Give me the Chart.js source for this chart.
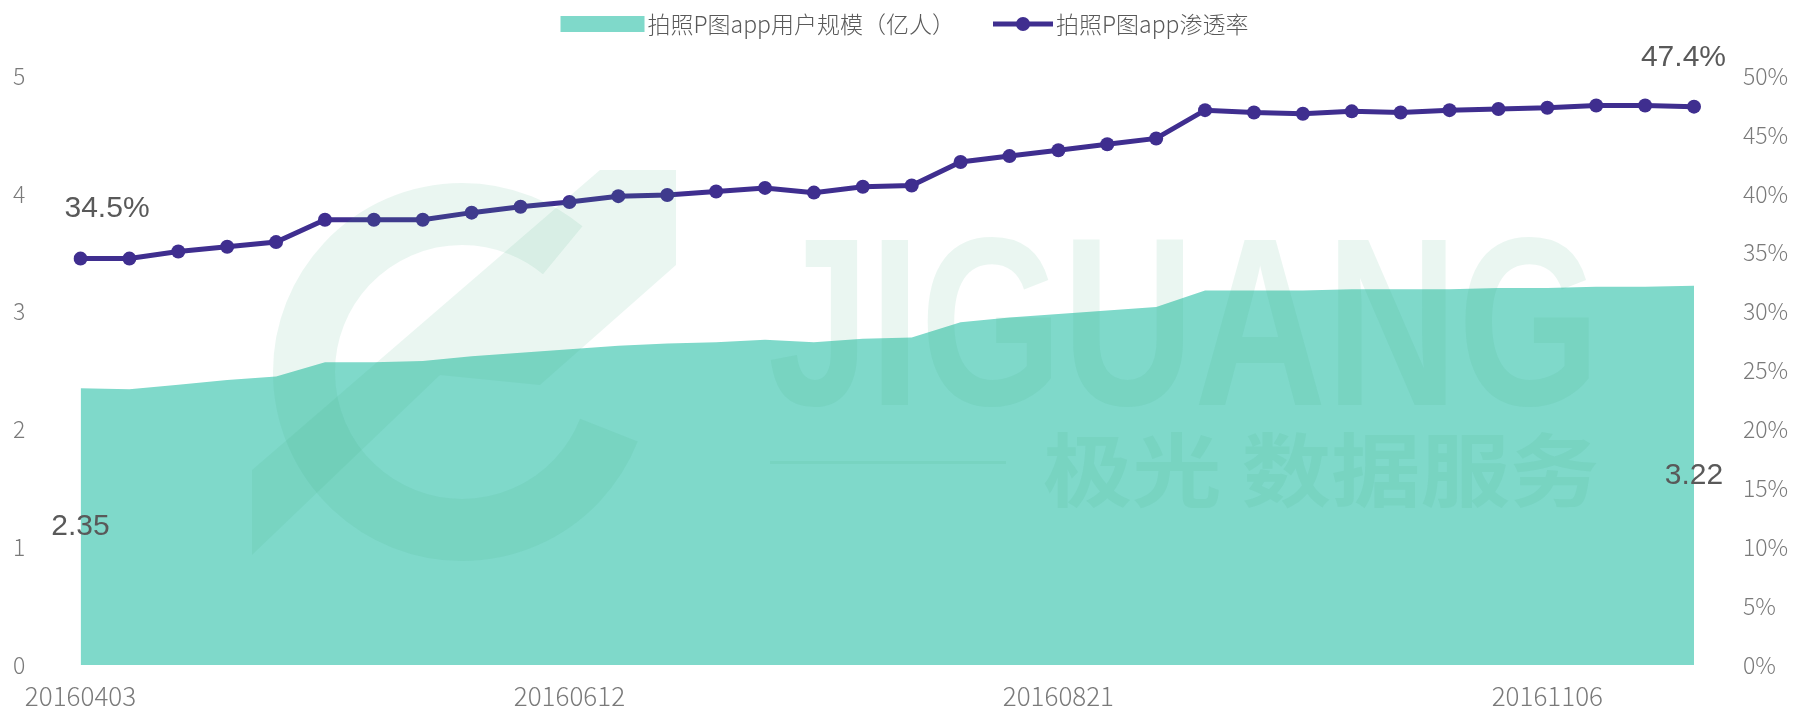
<!DOCTYPE html>
<html>
<head>
<meta charset="utf-8">
<script src="https://cdn.jsdelivr.net/npm/chart.js@4.4.1/dist/chart.umd.min.js"></script>
<style>
  html, body { margin: 0; padding: 0; background: #fff; overflow: hidden; }
  canvas { display: block; }
</style>
</head>
<body>
<canvas id="chart" width="1797" height="710"></canvas>
<script>
// weekly dates (one week missing in early October)
const dates = [
    '20160403', '20160410', '20160417', '20160424', '20160501', '20160508', '20160515', '20160522',
    '20160529', '20160605', '20160612', '20160619', '20160626', '20160703', '20160710', '20160717',
    '20160724', '20160731', '20160807', '20160814', '20160821', '20160828', '20160904', '20160911',
    '20160918', '20160925', '20161009', '20161016', '20161023', '20161030', '20161106', '20161113',
    '20161120', '20161127'
];

// 拍照P图app用户规模（亿人）
const users = [
    2.35, 2.34, 2.38, 2.42, 2.45, 2.57, 2.57, 2.58, 2.62, 2.65, 2.68, 2.71,
    2.73, 2.74, 2.76, 2.74, 2.77, 2.78, 2.91, 2.95, 2.98, 3.01, 3.04,
    3.18, 3.18, 3.18, 3.19, 3.19, 3.19, 3.20, 3.20, 3.21, 3.21, 3.22
];

// 拍照P图app渗透率 (%)
const penetration = [
    34.5, 34.5, 35.1, 35.5, 35.9, 37.8, 37.8, 37.8, 38.4, 38.9, 39.3, 39.8,
    39.9, 40.2, 40.5, 40.1, 40.6, 40.7, 42.7, 43.2, 43.7, 44.2, 44.7,
    47.1, 46.9, 46.8, 47.0, 46.9, 47.1, 47.2, 47.3, 47.5, 47.5, 47.4
];

const seriesNames = ['拍照P图app用户规模（亿人）', '拍照P图app渗透率'];

const TEAL = '#7fd9ca';
const PURPLE = '#3f2e8f';
const TICK_COLOR = '#7a7a7a';
const LABEL_COLOR = '#595959';
const CJK = '"Noto Sans CJK SC", "Noto Sans", sans-serif';

// background watermark (logo + text), drawn faintly over everything
const watermark = {
    id: 'watermark',
    afterDatasetsDraw(chart) {
        const ctx = chart.ctx;
        ctx.save();
        ctx.globalAlpha = 0.11;
        ctx.fillStyle = '#44af80';
        ctx.strokeStyle = '#44af80';

        // ring of the logo
        ctx.lineWidth = 62;
        ctx.beginPath();
        ctx.arc(462, 372, 158, Math.PI * 0.12, Math.PI * 1.72);
        ctx.stroke();

        // diagonal bars
        ctx.beginPath();
        ctx.moveTo(252, 555);
        ctx.lineTo(252, 470);
        ctx.lineTo(600, 170);
        ctx.lineTo(676, 170);
        ctx.lineTo(676, 265);
        ctx.lineTo(540, 385);
        ctx.lineTo(440, 375);
        ctx.closePath();
        ctx.fill();

        // JIGUANG
        ctx.font = 'bold 240px "Liberation Sans", sans-serif';
        ctx.textBaseline = 'alphabetic';
        const w = ctx.measureText('JIGUANG').width;
        ctx.save();
        ctx.translate(768, 405);
        ctx.scale(832 / w, 1);
        ctx.fillText('JIGUANG', 0, 0);
        ctx.restore();

        ctx.fillRect(770, 461, 236, 3);

        ctx.font = 'bold 80px ' + CJK;
        const w2 = ctx.measureText('极光 数据服务').width;
        ctx.save();
        ctx.translate(1043, 500);
        ctx.scale(556 / w2, 1);
        ctx.fillText('极光 数据服务', 0, 0);
        ctx.restore();

        ctx.restore();
    }
};

// value labels at first and last points
const endLabels = {
    id: 'endLabels',
    afterDatasetsDraw(chart) {
        const ctx = chart.ctx;
        const x = chart.scales.x;
        const yL = chart.scales.y;
        const yR = chart.scales.y1;
        const last = dates.length - 1;
        ctx.save();
        ctx.fillStyle = LABEL_COLOR;
        ctx.font = '30px "Liberation Sans", Arial, sans-serif';
        ctx.textBaseline = 'middle';

        // penetration labels above the line
        ctx.textAlign = 'left';
        ctx.fillText(penetration[0].toFixed(1) + '%', x.getPixelForValue(0) - 16, yR.getPixelForValue(penetration[0]) - 50);
        ctx.textAlign = 'right';
        ctx.fillText(penetration[last].toFixed(1) + '%', x.getPixelForValue(last) + 32, yR.getPixelForValue(penetration[last]) - 49);

        // user labels at mid height of area
        ctx.textAlign = 'center';
        ctx.fillText(users[0].toFixed(2), x.getPixelForValue(0), yL.getPixelForValue(users[0] / 2));
        ctx.fillText(users[last].toFixed(2), x.getPixelForValue(last), yL.getPixelForValue(users[last] / 2));
        ctx.restore();
    }
};

// legend at the top
const topLegend = {
    id: 'topLegend',
    afterDraw(chart) {
        const ctx = chart.ctx;
        ctx.save();
        ctx.font = '300 23px ' + CJK;
        ctx.textBaseline = 'middle';
        const boxW = 84, lineW = 60, gap = 3, itemGap = 38;
        const t0 = ctx.measureText(seriesNames[0]).width;
        const t1 = ctx.measureText(seriesNames[1]).width;
        const total = boxW + gap + t0 + itemGap + lineW + gap + t1;
        let cx = (chart.width - total) / 2 + 6;
        const cy = 24;

        ctx.fillStyle = TEAL;
        ctx.fillRect(cx, cy - 8, boxW, 16);
        cx += boxW + gap;
        ctx.fillStyle = LABEL_COLOR;
        ctx.fillText(seriesNames[0], cx, cy);
        cx += t0 + itemGap;

        ctx.strokeStyle = PURPLE;
        ctx.lineWidth = 5;
        ctx.beginPath();
        ctx.moveTo(cx, cy);
        ctx.lineTo(cx + lineW, cy);
        ctx.stroke();
        ctx.fillStyle = PURPLE;
        ctx.beginPath();
        ctx.arc(cx + lineW / 2, cy, 7, 0, Math.PI * 2);
        ctx.fill();
        cx += lineW + gap;
        ctx.fillStyle = LABEL_COLOR;
        ctx.fillText(seriesNames[1], cx, cy);
        ctx.restore();
    }
};

new Chart(document.getElementById('chart'), {
    type: 'line',
    data: {
        labels: dates,
        datasets: [
            {
                label: seriesNames[1],
                data: penetration,
                yAxisID: 'y1',
                borderColor: PURPLE,
                backgroundColor: PURPLE,
                borderWidth: 5,
                pointRadius: 7,
                pointBackgroundColor: PURPLE,
                pointBorderWidth: 0,
                tension: 0,
                fill: false,
                order: 0
            },
            {
                label: seriesNames[0],
                data: users,
                yAxisID: 'y',
                borderWidth: 0,
                borderColor: TEAL,
                backgroundColor: TEAL,
                pointRadius: 0,
                tension: 0,
                fill: 'origin',
                order: 1
            }
        ]
    },
    options: {
        responsive: false,
        animation: false,
        devicePixelRatio: 1,
        layout: {
            padding: { top: 76, left: 13, right: 0, bottom: 0 }
        },
        plugins: {
            legend: { display: false },
            tooltip: { enabled: false }
        },
        scales: {
            x: {
                offset: false,
                grid: { display: false, drawTicks: false },
                border: { display: false },
                ticks: {
                    autoSkip: false,
                    maxRotation: 0,
                    padding: 16,
                    color: TICK_COLOR,
                    font: { family: CJK, size: 26, weight: 300 },
                    callback: (v, i) => (i % 10 === 0 ? dates[i] : '')
                },
                afterFit: s => { s.height = 45; }
            },
            y: {
                position: 'left',
                min: 0,
                max: 5,
                grid: { display: false, drawTicks: false },
                border: { display: false },
                ticks: {
                    stepSize: 1,
                    crossAlign: 'far',
                    color: TICK_COLOR,
                    font: { family: CJK, size: 23, weight: 300 }
                },
                afterFit: s => { s.width = 67.5; }
            },
            y1: {
                position: 'right',
                min: 0,
                max: 50,
                // invisible tick marks push the labels away from the plot
                grid: { display: false, drawTicks: true, tickLength: 46 },
                border: { display: false },
                ticks: {
                    stepSize: 5,
                    padding: 3,
                    color: TICK_COLOR,
                    font: { family: CJK, size: 23, weight: 300 },
                    callback: v => v + '%'
                },
                afterFit: s => { s.width = 103; }
            }
        }
    },
    plugins: [watermark, endLabels, topLegend]
});
</script>
</body>
</html>
